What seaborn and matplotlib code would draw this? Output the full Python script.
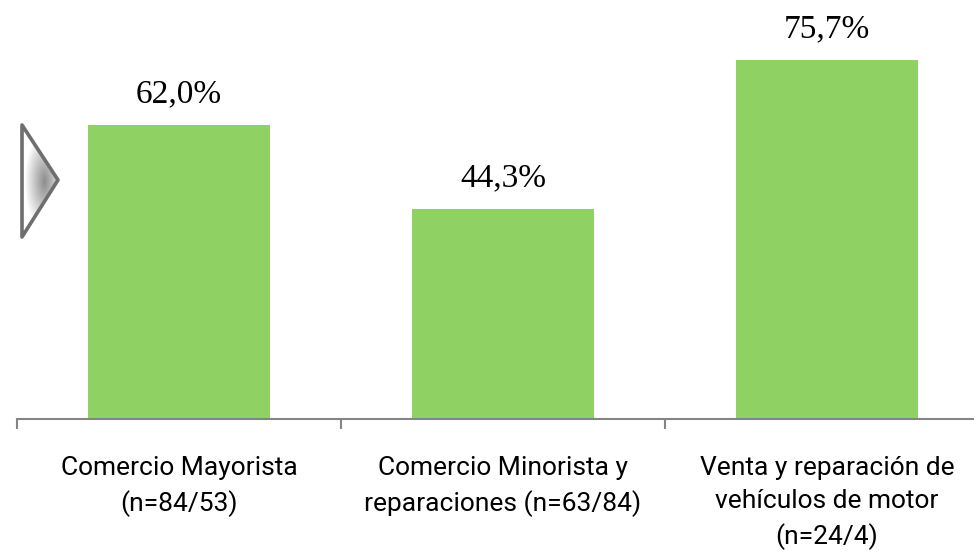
import numpy as np
import pandas as pd
import matplotlib
matplotlib.use('Agg')
import matplotlib.pyplot as plt
from matplotlib.patches import Polygon
import seaborn as sns

categories = [
    'Comercio Mayorista\n(n=84/53)',
    'Comercio Minorista y\nreparaciones (n=63/84)',
    'Venta y reparación de\nvehículos de motor\n(n=24/4)',
]
values = [62.0, 44.3, 75.7]

BAR_COLOR = '#8FD163'
AXIS_GRAY = '#858585'

sns.set_style('white')
plt.rcParams['font.family'] = ['Roboto', 'DejaVu Sans']
plt.rcParams['text.color'] = 'black'
plt.rcParams['xtick.color'] = 'black'

df = pd.DataFrame({'cat': categories, 'val': values})

fig = plt.figure(figsize=(9.74, 5.54), dpi=100)
ax = fig.add_axes([17 / 974, 135 / 554, 972 / 974, 419 / 554])

sns.barplot(data=df, x='cat', y='val', color=BAR_COLOR, width=0.56,
            saturation=1, ax=ax)
for p in ax.patches:
    p.set_edgecolor('none')

ax.set_xlim(-0.5, len(categories) - 0.5)
ax.set_ylim(0, 88.4)
ax.set_xlabel('')
ax.set_ylabel('')
ax.set_yticks([])

for s in ['top', 'right', 'left']:
    ax.spines[s].set_visible(False)
ax.spines['bottom'].set_color(AXIS_GRAY)
ax.spines['bottom'].set_linewidth(1.5)

# labels at category centers, tick marks at the boundaries
ax.tick_params(axis='x', which='major', length=0, pad=27, labelsize=19,
               labelcolor='black')
ax.set_xticks(np.arange(-0.5, len(categories)), minor=True)
ax.tick_params(axis='x', which='minor', bottom=True, length=7.2, width=1.5,
               color=AXIS_GRAY, direction='out')
for lbl in ax.get_xticklabels():
    lbl.set_linespacing(1.47)

for i, v in enumerate(values):
    ax.annotate(f'{v:.1f}'.replace('.', ',') + '%', xy=(i, v),
                xytext=(0, 16.5), textcoords='offset points',
                ha='center', va='baseline', fontsize=24, color='black',
                family=['Liberation Serif', 'DejaVu Serif'])

# grey arrow decoration on the left
W, H = 974, 554
pts = np.array([[22, 125], [58, 180], [22, 237]], dtype=float)
deco = fig.add_axes([0, 0, 1, 1], zorder=5)
deco.axis('off')
yy, xx = np.mgrid[0:H, 0:W]
d = np.sqrt(((xx - 44) / 22.0) ** 2 + ((yy - 181) / 55.0) ** 2)
shade = np.clip(0.55 + 0.5 * d, 0, 1)
img = deco.imshow(shade, cmap='gray', vmin=0, vmax=1, extent=(0, W, H, 0),
                  interpolation='bilinear')
tri = Polygon(pts, closed=True, facecolor='none', edgecolor='#6e6e6e',
              linewidth=2.6, joinstyle='round')
deco.add_patch(tri)
img.set_clip_path(tri)
deco.set_xlim(0, W)
deco.set_ylim(H, 0)

fig.savefig('out.png', dpi=100)
